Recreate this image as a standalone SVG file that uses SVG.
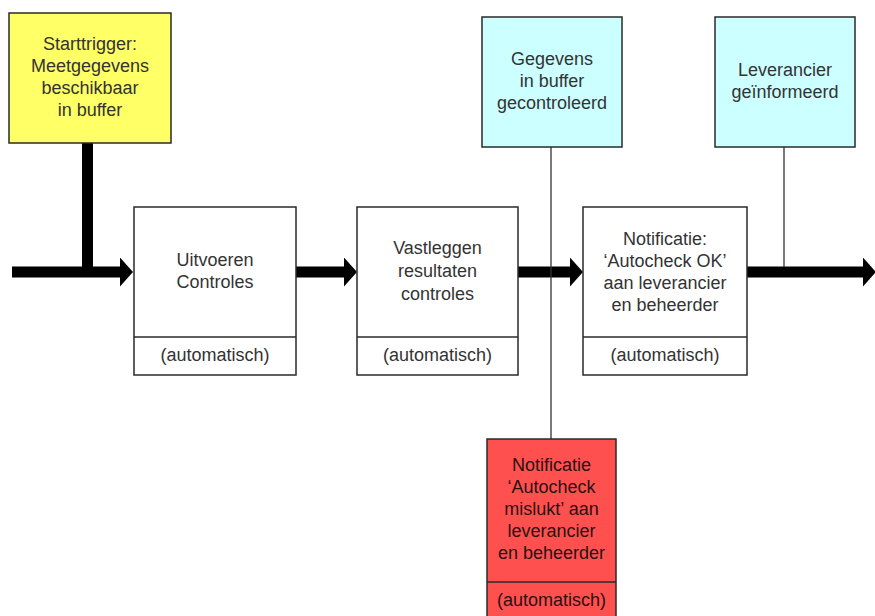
<svg xmlns="http://www.w3.org/2000/svg" width="875" height="616" viewBox="0 0 875 616">
<defs>
<style>
.box{stroke:#2a2a2a;stroke-width:1.5}
.t{font-family:"Liberation Sans",Arial,sans-serif;font-size:18px;fill:#333;text-anchor:middle}
.r{fill:#2a1010}
.flow{stroke:#000;stroke-width:11;fill:none}
.thin{stroke:#333;stroke-width:1.3;fill:none}
</style>
<marker id="ah" viewBox="0 0 13 29" refX="0" refY="14.5" markerWidth="13" markerHeight="29" markerUnits="userSpaceOnUse" orient="auto">
<path d="M0,0 L13,14.5 L0,29 z" fill="#000"/>
</marker>
</defs>
<rect width="875" height="616" fill="#fff"/>
<g id="connectors">
<line class="flow" x1="87.5" y1="143" x2="87.5" y2="272"/>
<line class="flow" x1="12" y1="272" x2="120" y2="272" marker-end="url(#ah)"/>
<line class="flow" x1="296" y1="272" x2="344" y2="272" marker-end="url(#ah)"/>
<line class="flow" x1="518" y1="272" x2="570" y2="272" marker-end="url(#ah)"/>
<line class="flow" x1="747" y1="272" x2="863" y2="272" marker-end="url(#ah)"/>
<line class="thin" x1="551" y1="142" x2="551" y2="439"/>
<line class="thin" x1="784" y1="142" x2="784" y2="267"/>
</g>
<g id="starttrigger">
<rect class="box" x="9" y="13" width="162" height="130" fill="#FFFF66"/>
<text class="t" x="90" y="50">Starttrigger:</text>
<text class="t" x="90" y="72">Meetgegevens</text>
<text class="t" x="90" y="94">beschikbaar</text>
<text class="t" x="90" y="116">in buffer</text>
</g>
<g id="uitvoeren">
<rect class="box" x="134" y="207" width="162" height="168" fill="#fff"/>
<line class="box" x1="134" y1="337" x2="296" y2="337"/>
<text class="t" x="215" y="266">Uitvoeren</text>
<text class="t" x="215" y="288">Controles</text>
<text class="t" x="215" y="361">(automatisch)</text>
</g>
<g id="vastleggen">
<rect class="box" x="357" y="207" width="161" height="168" fill="#fff"/>
<line class="box" x1="357" y1="337" x2="518" y2="337"/>
<text class="t" x="437.5" y="254">Vastleggen</text>
<text class="t" x="437.5" y="277">resultaten</text>
<text class="t" x="437.5" y="300">controles</text>
<text class="t" x="437.5" y="361">(automatisch)</text>
</g>
<g id="notificatie-ok">
<rect class="box" x="583" y="207" width="164" height="168" fill="#fff"/>
<line class="box" x1="583" y1="337" x2="747" y2="337"/>
<text class="t" x="665" y="245">Notificatie:</text>
<text class="t" x="665" y="267">‘Autocheck OK’</text>
<text class="t" x="665" y="289">aan leverancier</text>
<text class="t" x="665" y="311">en beheerder</text>
<text class="t" x="665" y="361">(automatisch)</text>
</g>
<g id="gecontroleerd">
<rect class="box" x="482" y="17" width="140" height="130" fill="#CCFFFF"/>
<text class="t" x="552" y="65">Gegevens</text>
<text class="t" x="552" y="87">in buffer</text>
<text class="t" x="552" y="109">gecontroleerd</text>
</g>
<g id="geinformeerd">
<rect class="box" x="715" y="17" width="140" height="130" fill="#CCFFFF"/>
<text class="t" x="785" y="76">Leverancier</text>
<text class="t" x="785" y="98">geïnformeerd</text>
</g>
<g id="notificatie-mislukt">
<rect class="box" x="487" y="439" width="129" height="190" fill="#FF5050"/>
<line class="box" x1="487" y1="582" x2="616" y2="582"/>
<text class="t r" x="551.5" y="471">Notificatie</text>
<text class="t r" x="551.5" y="493">‘Autocheck</text>
<text class="t r" x="551.5" y="515">mislukt’ aan</text>
<text class="t r" x="551.5" y="537">leverancier</text>
<text class="t r" x="551.5" y="559">en beheerder</text>
<text class="t r" x="551.5" y="606">(automatisch)</text>
</g>
</svg>
